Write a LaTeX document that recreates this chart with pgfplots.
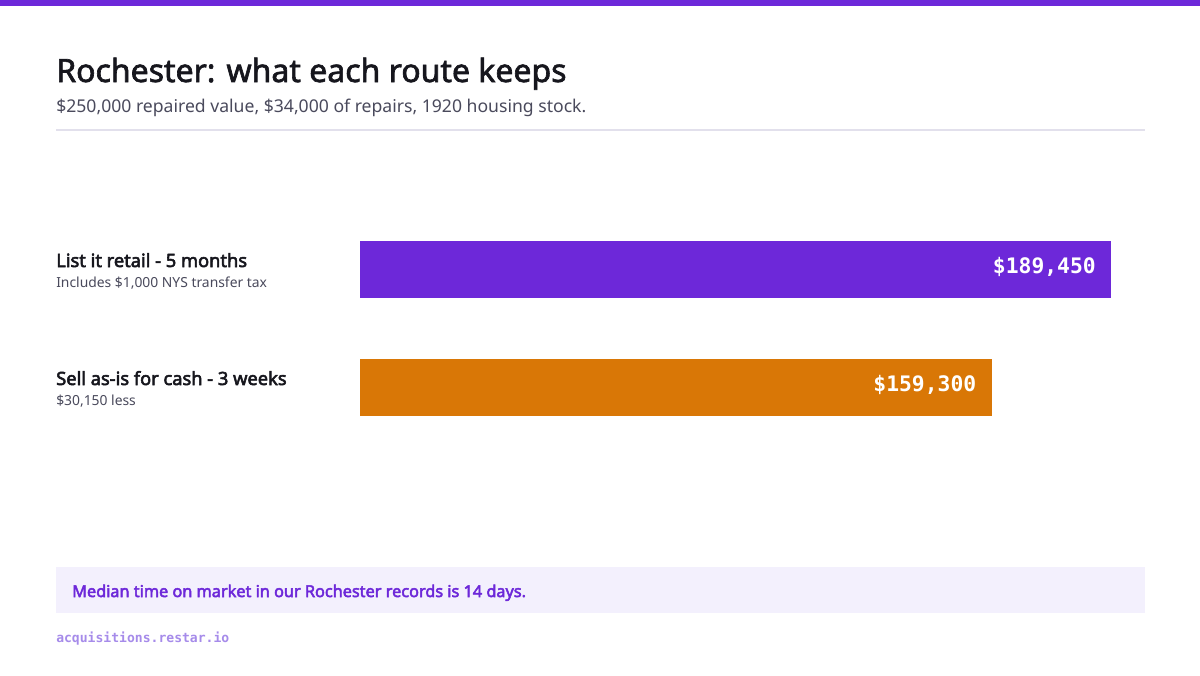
\documentclass[border=0pt]{standalone}
\usepackage{pgfplots}
\pgfplotsset{compat=1.18}
\usepackage{fontspec}
\setmainfont{Noto Sans}[BoldFont={Noto Sans}, BoldFeatures={FakeBold=3}]
\newfontfamily\titlefont{Noto Sans}[FakeBold=2]
\setmonofont{DejaVu Sans Mono}

\definecolor{brand}{HTML}{6D28D9}
\definecolor{amber}{HTML}{D97706}
\definecolor{ink}{HTML}{16161D}
\definecolor{subink}{HTML}{4A4A5C}
\definecolor{rule}{HTML}{E2E0EC}
\definecolor{notebg}{HTML}{F3F0FD}
\definecolor{urlink}{HTML}{A68BEA}

\begin{document}
\begin{tikzpicture}
% page and decorations, 1px = 0.75pt
\begin{scope}[x=0.75pt,y=-0.75pt]
  \fill[white] (0,0) rectangle (1200,675);
  \fill[brand] (0,0) rectangle (1200,6);
  \node[anchor=base west,inner sep=0,text=ink,font=\titlefont\fontsize{24}{28}\selectfont]
    at (56,82) {Rochester: what each route keeps};
  \node[anchor=base west,inner sep=0,text=subink,font=\fontsize{13.2}{16}\selectfont]
    at (56,112) {\$250,000 repaired value, \$34,000 of repairs, 1920 housing stock.};
  \fill[rule] (56,129) rectangle (1145,131);

  \node[anchor=base west,inner sep=0,text=ink,font=\bfseries\fontsize{13.7}{16}\selectfont]
    at (56,267) {List it retail - 5 months};
  \node[anchor=base west,inner sep=0,text=subink,font=\fontsize{10.4}{13}\selectfont]
    at (56,287) {Includes \$1,000 NYS transfer tax};
  \node[anchor=base west,inner sep=0,text=ink,font=\bfseries\fontsize{13.7}{16}\selectfont]
    at (56,385) {Sell as-is for cash - 3 weeks};
  \node[anchor=base west,inner sep=0,text=subink,font=\fontsize{10.4}{13}\selectfont]
    at (56,405) {\$30,150 less};

  \fill[notebg] (56,567) rectangle (1145,613);
  \node[anchor=base west,inner sep=0,text=brand,font=\bfseries\fontsize{12.2}{14}\selectfont]
    at (72,597) {Median time on market in our Rochester records is 14 days.};
  \node[anchor=base west,inner sep=0,text=urlink,font=\ttfamily\bfseries\fontsize{9.8}{12}\selectfont]
    at (56,642) {acquisitions.restar.io};
\end{scope}

\begin{axis}[
  at={(270pt,-157.875pt)}, anchor=north west,
  scale only axis, width=588.75pt, height=177pt,
  xbar, bar width=42.75pt, bar shift=0pt,
  xmin=0, xmax=198000,
  ymin=-0.5, ymax=1.5, y dir=reverse,
  hide axis, clip=false,
  point meta=explicit symbolic,
  nodes near coords,
  every node near coord/.append style={anchor=east, xshift=-8pt, yshift=2pt,
    text=white, font=\ttfamily\bfseries\fontsize{16}{18}\selectfont},
]
  \addplot[draw=none, fill=brand] coordinates {(189450,0) [\$189,450]};
  \addplot[draw=none, fill=amber] coordinates {(159300,1) [\$159,300]};
\end{axis}
\end{tikzpicture}
\end{document}
